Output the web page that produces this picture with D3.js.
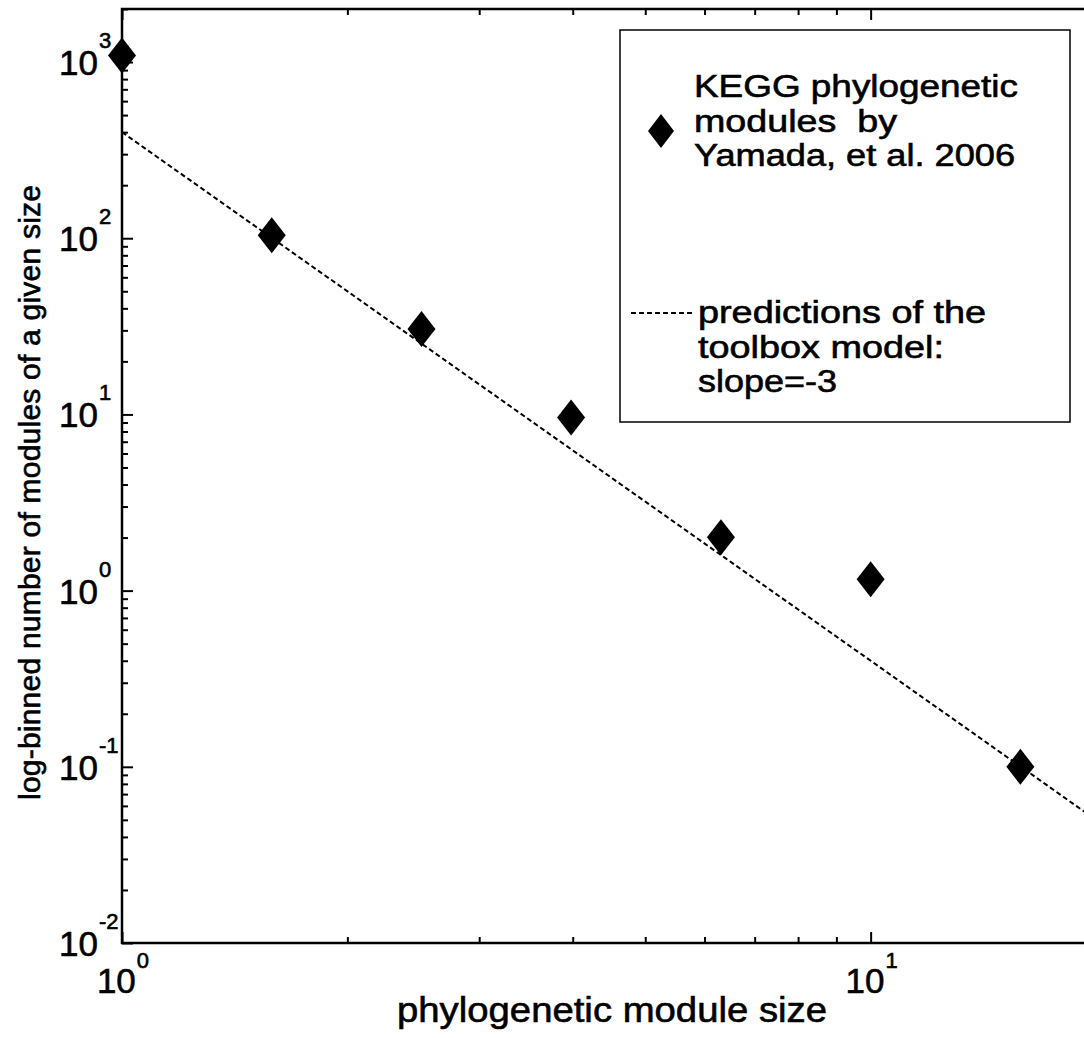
<!DOCTYPE html>
<html>
<head>
<meta charset="utf-8">
<script src="https://cdn.jsdelivr.net/npm/d3@7"></script>
<style>
  body { margin: 0; background: #fff; }
  text { font-family: "Liberation Sans", Arial, sans-serif; fill: #000; }
  .heavy { stroke: #000; stroke-width: 0.6px; }
</style>
</head>
<body>
<div id="chart"></div>
<script>
// module sizes (log-binned) and counts
const moduleSize = [1, 1.585, 2.512, 3.98, 6.31, 10, 15.85];
const moduleCount = [1090, 104, 30.5, 9.6, 2.01, 1.16, 0.1];

// toolbox model prediction, slope -3 (end points)
const modelX = [1, 20];
const modelY = [400, 0.05];

const xMajor = [1, 10];
const xMinor = [2, 3, 4, 5, 6, 7, 8, 9, 20];
const yMajor = [0.01, 0.1, 1, 10, 100, 1000];
const xTickExp = ["0", "1"];
const yTickExp = ["-2", "-1", "0", "1", "2", "3"];

const legendLabels = [
    ["KEGG phylogenetic", "modules  by", "Yamada, et al. 2006"],
    ["predictions of the", "toolbox model:", "slope=-3"]
];
const legendWidths = [[324, 203, 321], [288, 246, 139]];

const width = 1084, height = 1038;
const mLeft = 122, mTop = 9, mBottom = 943, mRight = 1096;

let svg = d3.select("#chart").append("svg")
    .attr("width", width)
    .attr("height", height);

let x = d3.scaleLog().domain([1, 20]).range([mLeft, mRight]);
let y = d3.scaleLog().domain([0.01, 2000]).range([mBottom, mTop]);

let yMinor = [];
yMajor.slice(0, -1).forEach(d => {
    for (let k = 2; k <= 9; k++) yMinor.push(d * k);
});
yMinor.push(2000);

const majorLen = 11, minorLen = 6;

function addAxis(axis, tr) {
    let g = svg.append("g").attr("transform", tr).call(axis);
    g.select(".domain").remove();
    g.selectAll(".tick line").attr("stroke", "#000").attr("stroke-width", 2);
    g.selectAll(".tick text").remove();
}

// bottom / top
addAxis(d3.axisBottom(x).tickValues(xMajor).tickSizeInner(-majorLen).tickSizeOuter(0), `translate(0,${mBottom})`);
addAxis(d3.axisBottom(x).tickValues(xMinor).tickSizeInner(-minorLen).tickSizeOuter(0), `translate(0,${mBottom})`);
addAxis(d3.axisTop(x).tickValues(xMajor).tickSizeInner(-majorLen).tickSizeOuter(0), `translate(0,${mTop})`);
addAxis(d3.axisTop(x).tickValues(xMinor).tickSizeInner(-minorLen).tickSizeOuter(0), `translate(0,${mTop})`);
// left / right
addAxis(d3.axisLeft(y).tickValues(yMajor).tickSizeInner(-majorLen).tickSizeOuter(0), `translate(${mLeft},0)`);
addAxis(d3.axisLeft(y).tickValues(yMinor).tickSizeInner(-minorLen).tickSizeOuter(0), `translate(${mLeft},0)`);
addAxis(d3.axisRight(y).tickValues(yMajor).tickSizeInner(-majorLen).tickSizeOuter(0), `translate(${mRight},0)`);

// box
svg.append("rect")
    .attr("x", mLeft).attr("y", mTop)
    .attr("width", mRight - mLeft).attr("height", mBottom - mTop)
    .attr("fill", "none").attr("stroke", "#000").attr("stroke-width", 2.5);

// tick labels
let xl = svg.selectAll(".xlab").data(xMajor).enter().append("text")
    .attr("class", "xlab heavy")
    .attr("x", d => x(d) + 1)
    .attr("y", 993)
    .attr("text-anchor", "middle")
    .style("font-size", "35px");
xl.append("tspan").text("10");
xl.append("tspan").attr("dy", -25).attr("dx", 1).style("font-size", "22px").text((d, i) => xTickExp[i]);

let yl = svg.selectAll(".ylab").data(yMajor).enter().append("text")
    .attr("class", "ylab heavy")
    .attr("x", 59)
    .attr("y", d => y(d) + 13)
    .style("font-size", "35px");
yl.append("tspan").text("10");
yl.append("tspan").attr("dy", -27).attr("dx", 1).style("font-size", "22px").text((d, i) => yTickExp[i]);

// axis titles
svg.append("text")
    .attr("class", "heavy")
    .attr("x", 397).attr("y", 1022)
    .attr("textLength", 430)
    .attr("lengthAdjust", "spacingAndGlyphs")
    .style("font-size", "35px")
    .text("phylogenetic module size");

svg.append("text")
    .attr("class", "heavy")
    .attr("transform", "translate(40,800) rotate(-90)")
    .attr("textLength", 615)
    .attr("lengthAdjust", "spacing")
    .style("font-size", "30px")
    .text("log-binned number of modules of a given size");

// model line
let line = d3.line().x(d => x(d[0])).y(d => y(d[1]));
svg.append("path")
    .datum(d3.zip(modelX, modelY))
    .attr("d", line)
    .attr("fill", "none")
    .attr("stroke", "#000")
    .attr("stroke-width", 2)
    .attr("stroke-dasharray", "5,3");

// diamonds
const diamond = "M0,-18L14,0L0,18L-14,0Z";
svg.selectAll(".pt").data(d3.zip(moduleSize, moduleCount)).enter().append("path")
    .attr("class", "pt")
    .attr("transform", d => `translate(${x(d[0])},${y(d[1])})`)
    .attr("d", diamond)
    .attr("fill", "#000");

// legend
let lg = svg.append("g");
lg.append("rect")
    .attr("x", 620).attr("y", 30).attr("width", 450).attr("height", 392)
    .attr("fill", "#fff").attr("stroke", "#000").attr("stroke-width", 1.5);
lg.append("path")
    .attr("transform", "translate(661,131)")
    .attr("d", "M0,-17L13,0L0,17L-13,0Z")
    .attr("fill", "#000");
lg.append("line")
    .attr("x1", 631).attr("x2", 695).attr("y1", 313).attr("y2", 313)
    .attr("stroke", "#000").attr("stroke-width", 2).attr("stroke-dasharray", "5,3");
const legBase = [97, 323];
const legX = [694, 698];
legendLabels.forEach((lines, j) => {
    lg.append("g").selectAll("text").data(lines).enter().append("text")
        .attr("class", "heavy")
        .attr("x", legX[j])
        .attr("y", (d, i) => legBase[j] + i * 34.5)
        .attr("textLength", (d, i) => legendWidths[j][i])
        .attr("lengthAdjust", "spacingAndGlyphs")
        .style("font-size", "31px")
        .style("white-space", "pre")
        .text(d => d);
});
</script>
</body>
</html>
